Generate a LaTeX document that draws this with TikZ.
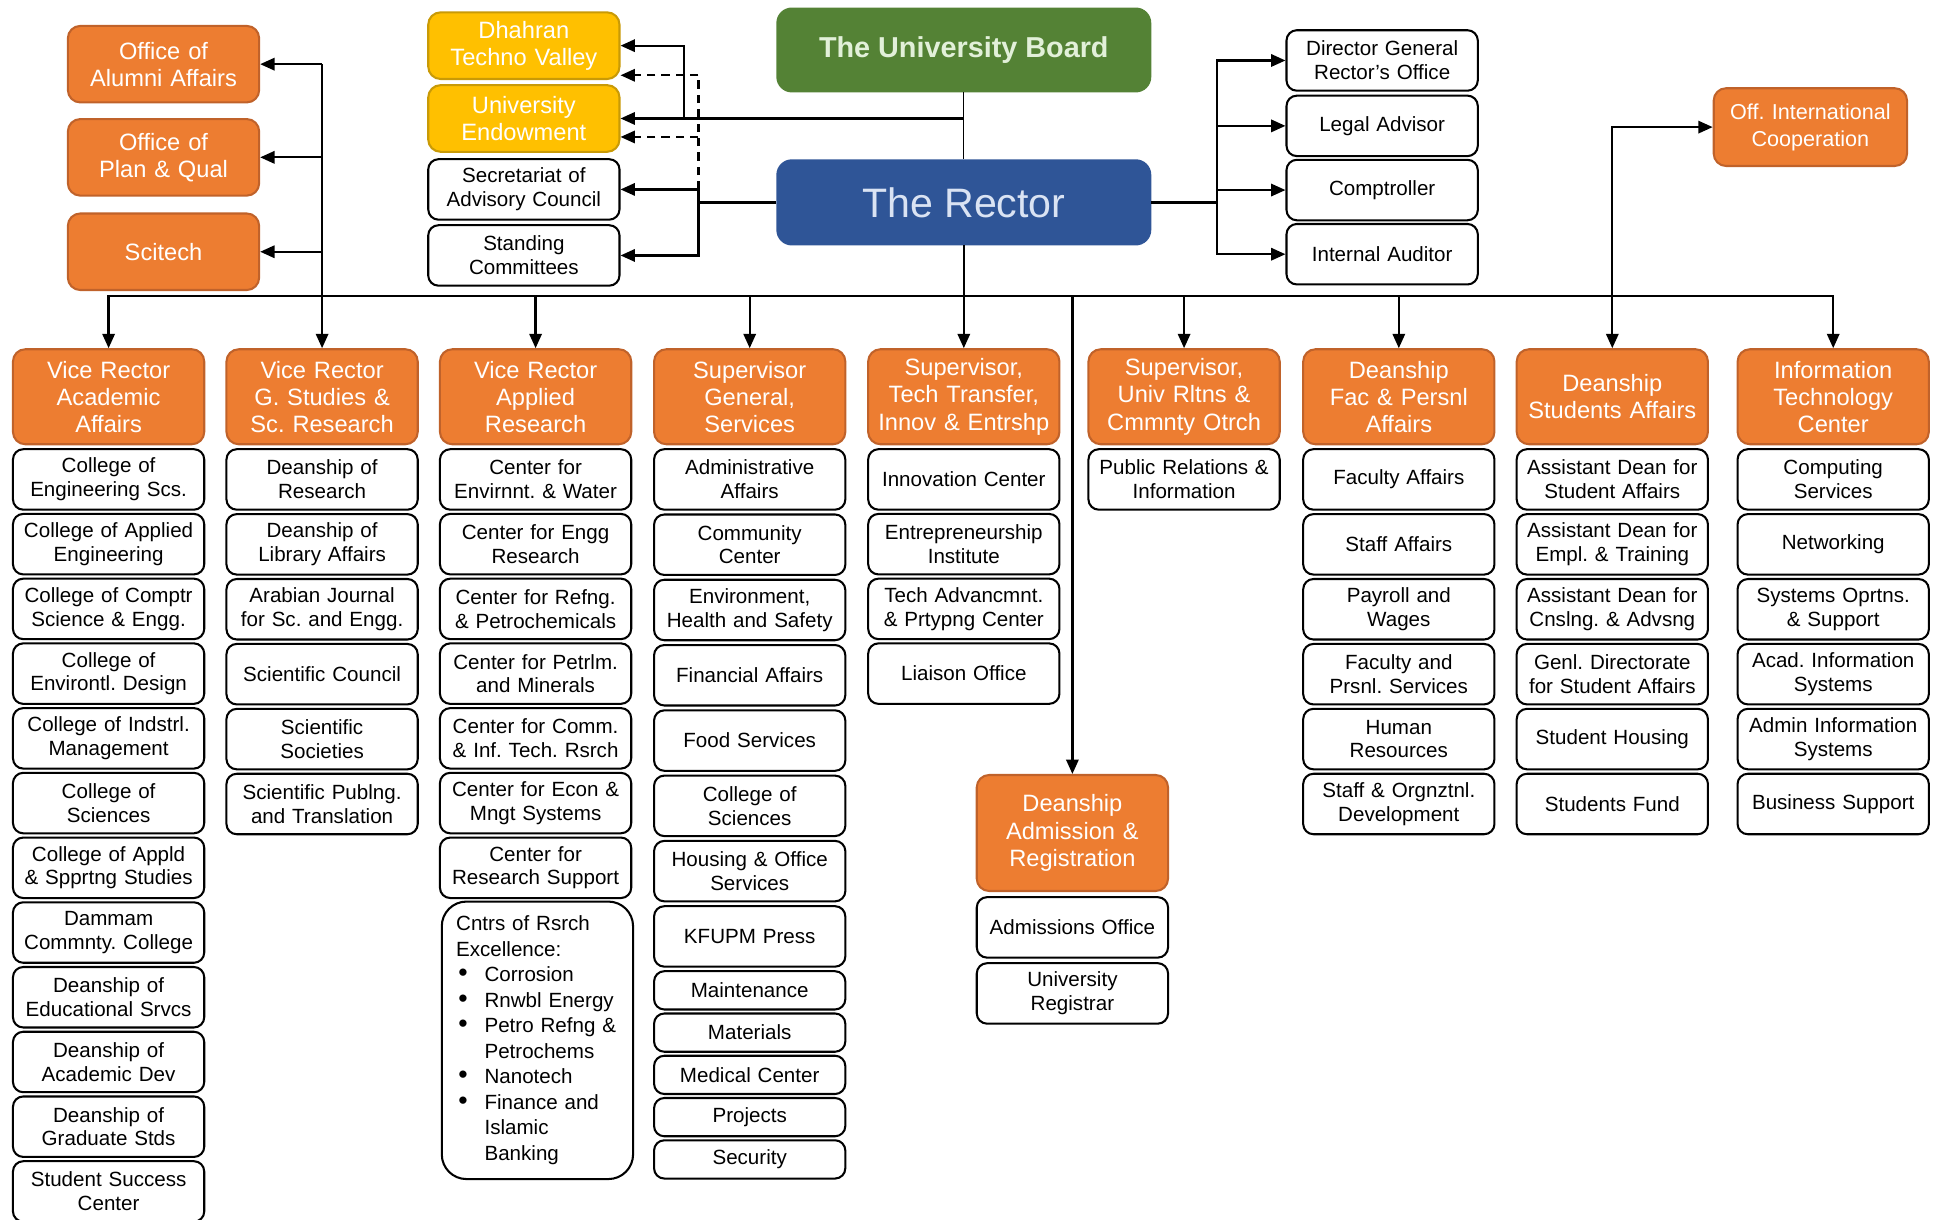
\documentclass[tikz,border=0pt]{standalone}
\usepackage{fontspec}
\setmainfont{Liberation Sans}
\usetikzlibrary{arrows.meta}
\frenchspacing
\definecolor{orgfill}{HTML}{ED7D31}
\definecolor{orgline}{HTML}{C0622A}
\definecolor{ylwfill}{HTML}{FFC000}
\definecolor{ylwline}{HTML}{C99A06}
\definecolor{brdfill}{HTML}{548235}
\definecolor{brdtext}{HTML}{E2F0D9}
\definecolor{rctfill}{HTML}{2F5597}
\definecolor{rcttext}{HTML}{DAE3F3}
\newcommand{\excitem}{\makebox[13.8pt][l]{\hspace{1pt}\scalebox{1.3}{\textbullet}}}
\tikzset{
 sub/.style={draw, fill=white, rounded corners=5pt, line width=1pt, text width=88pt, inner sep=2.5pt, minimum height=29.4pt, align=center, font=\fontsize{10}{11.5}\selectfont},
 hdr/.style={draw=orgline, fill=orgfill, rounded corners=6pt, line width=1pt, text=white, text width=88pt, inner sep=2.5pt, minimum height=46.2pt, align=center, font=\fontsize{11.5}{13.2}\selectfont},
 ylw/.style={hdr, draw=ylwline, fill=ylwfill, minimum height=32.4pt},
 side/.style={hdr, minimum height=37.2pt}
}

\begin{document}
\begin{tikzpicture}[x=0.6pt, y=-0.6pt, line width=1.1pt, >={Triangle[length=7pt,width=6pt]}]
\useasboundingbox (0,0) rectangle (1568,988);

\node[draw=brdfill, fill=brdfill, rounded corners=7pt, minimum width=181.2pt, minimum height=40.2pt, text=brdtext, font=\fontsize{14}{17}\selectfont\bfseries] (board) at (781,40.5) {The University Board};
\node[draw=rctfill, fill=rctfill, rounded corners=7pt, minimum width=181.2pt, minimum height=40.8pt, text=rcttext, font=\fontsize{20}{24}\selectfont] (rector) at (781,164) {The Rector};

\node[side] (alumni) at (132.5,52) {Office of\\Alumni Affairs};
\node[side] (plan) at (132.5,127.5) {Office of\\Plan \& Qual};
\node[side] (scitech) at (132.5,204) {Scitech};

\node[ylw] (dhahran) at (424.5,37) {Dhahran\\Techno Valley};
\node[ylw] (endow) at (424.5,96) {University\\Endowment};
\node[sub] (secr) at (424.5,153.5) {Secretariat of\\Advisory Council};
\node[sub] (stand) at (424.5,207) {Standing\\Committees};

\node[sub] (dg) at (1120,49) {Director General\\Rector’s Office};
\node[sub] (legal) at (1120,102) {Legal Advisor};
\node[sub] (comp) at (1120,154) {Comptroller};
\node[sub] (audit) at (1120,206) {Internal Auditor};

\node[hdr, minimum height=37.8pt, text width=92pt, inner sep=1pt, font=\fontsize{10.5}{13.2}\selectfont] (intl) at (1467,103) {Off. International\\Cooperation};

\foreach \x/\lbl [count=\i] in {88/{Vice Rector\\Academic\\Affairs}, 261/{Vice Rector\\G. Studies \&\\Sc. Research}, 434/{Vice Rector\\Applied\\Research}, 607.5/{Supervisor\\General,\\Services}, 781/{Supervisor,\\Tech Transfer,\\Innov \& Entrshp}, 959.5/{Supervisor,\\Univ Rltns \&\\Cmmnty Otrch}, 1133.5/{Deanship\\Fac \& Persnl\\Affairs}, 1306.5/{Deanship\\Students Affairs}, 1485.5/{Information\\Technology\\Center}}
  \node[hdr] (h\i) at (\x,321.5) {\lbl};

\foreach \lbl [count=\i] in {{College of\\Engineering Scs.}, {College of Applied\\Engineering}, {College of Comptr\\Science \& Engg.}, {College of\\Environtl. Design}, {College of Indstrl.\\Management}, {College of\\Sciences}, {College of Appld\\\& Spprtng Studies}, {Dammam\\Commnty. College}, {Deanship of\\Educational Srvcs}, {Deanship of\\Academic Dev}, {Deanship of\\Graduate Stds}, {Student Success\\Center}}
  \node[sub] (va\i) at (88,{388.5+52.45*(\i-1)}) {\lbl};

\foreach \lbl [count=\i] in {{Deanship of\\Research}, {Deanship of\\Library Affairs}, {Arabian Journal\\for Sc. and Engg.}, {Scientific Council}, {Scientific\\Societies}, {Scientific Publng.\\and Translation}}
  \node[sub] (vg\i) at (261,{388.5+52.6*(\i-1)}) {\lbl};

\foreach \lbl [count=\i] in {{Center for\\Envirnnt. \& Water}, {Center for Engg\\Research}, {Center for Refng.\\\& Petrochemicals}, {Center for Petrlm.\\and Minerals}, {Center for Comm.\\\& Inf. Tech. Rsrch}, {Center for Econ \&\\Mngt Systems}, {Center for\\Research Support}}
  \node[sub] (vr\i) at (434,{388.5+52.45*(\i-1)}) {\lbl};
\node[sub, align=left, text width=79pt, inner sep=7pt, rounded corners=12pt, minimum height=134pt, font=\fontsize{10}{12.4}\selectfont] (exc) at (435.5,843) {Cntrs of Rsrch\\Excellence:\\\excitem Corrosion\\\excitem Rnwbl Energy\\\excitem Petro Refng \&\\\hspace*{13.8pt}Petrochems\\\excitem Nanotech\\\excitem Finance and\\\hspace*{13.8pt}Islamic\\\hspace*{13.8pt}Banking};

\foreach \lbl [count=\i] in {{Administrative\\Affairs}, {Community\\Center}, {Environment,\\Health and Safety}, {Financial Affairs}, {Food Services}, {College of\\Sciences}, {Housing \& Office\\Services}, {KFUPM Press}}
  \node[sub] (sg\i) at (607.5,{388.5+52.9*(\i-1)}) {\lbl};
\foreach \lbl [count=\i] in {Maintenance, Materials, Medical Center, Projects, Security}
  \node[sub, minimum height=18.6pt] (sm\i) at (607.5,{802.5+34.25*(\i-1)}) {\lbl};

\foreach \lbl [count=\i] in {{Innovation Center}, {Entrepreneurship\\Institute}, {Tech Advancmnt.\\\& Prtypng Center}, {Liaison Office}}
  \node[sub] (st\i) at (781,{388.5+52.45*(\i-1)}) {\lbl};

\node[sub] (su1) at (959.5,388.5) {Public Relations \&\\Information};

\foreach \lbl [count=\i] in {{Faculty Affairs}, {Staff Affairs}, {Payroll and\\Wages}, {Faculty and\\Prsnl. Services}, {Human\\Resources}, {Staff \& Orgnztnl.\\Development}}
  \node[sub] (df\i) at (1133.5,{388.5+52.6*(\i-1)}) {\lbl};

\foreach \lbl [count=\i] in {{Assistant Dean for\\Student Affairs}, {Assistant Dean for\\Empl. \& Training}, {Assistant Dean for\\Cnslng. \& Advsng}, {Genl. Directorate\\for Student Affairs}, {Student Housing}, {Students Fund}}
  \node[sub] (ds\i) at (1306.5,{388.5+52.6*(\i-1)}) {\lbl};

\foreach \lbl [count=\i] in {{Computing\\Services}, {Networking}, {Systems Oprtns.\\\& Support}, {Acad. Information\\Systems}, {Admin Information\\Systems}, {Business Support}}
  \node[sub] (it\i) at (1485.5,{388.5+52.6*(\i-1)}) {\lbl};

\node[hdr, minimum height=56.4pt] (adm) at (869,675) {Deanship\\Admission \&\\Registration};
\node[sub] (ao) at (869,751.5) {Admissions Office};
\node[sub] (ur) at (869,805) {University\\Registrar};

\coordinate (bj) at (781,96);
\coordinate (bk) at (554,96);
\coordinate (dtop) at (566,61);
\coordinate (dmid) at (566,111);
\coordinate (dbot) at (566,153.5);
\coordinate (rl) at (566,164);
\coordinate (rr) at (986,164);
\coordinate (bus) at (781,240);

\draw[line width=0.5pt] (board) -- (rector);
\draw[->] (bj) -- (endow.east);
\draw[->] (bk) |- (dhahran.east);
\draw[dashed, dash pattern=on 4pt off 3pt] (dbot) -- (dtop);
\draw[dashed, dash pattern=on 4pt off 3pt, ->] (dtop) -- (dhahran.east |- dtop);
\draw[dashed, dash pattern=on 4pt off 3pt, ->] (dmid) -- (endow.east |- dmid);
\draw (rector.west) -- (rl);
\draw[->] (rl) |- (secr.east);
\draw[->] (rl) |- (stand.east);
\draw (rector.east) -- (rr);
\foreach \n in {dg,legal,comp,audit}
  \draw[->] (rr) |- (\n.west);

\draw[<->] (h1.north) -- (h1.north |- bus) -- (h9.north |- bus) -- (h9.north);
\foreach \i in {2,3,4,6,7,8}
  \draw[->] (h\i.north |- bus) -- (h\i.north);
\draw[->] (rector.south) -- (h5.north);
\draw[->] (adm.north |- bus) -- (adm.north);
\draw (h2.north |- bus) -- (h2.north |- alumni.east);
\foreach \n in {alumni,plan,scitech}
  \draw[->] (h2.north |- \n.east) -- (\n.east);
\draw[->] (h8.north |- bus) -- (h8.north |- intl.west) -- (intl.west);
\end{tikzpicture}
\end{document}
